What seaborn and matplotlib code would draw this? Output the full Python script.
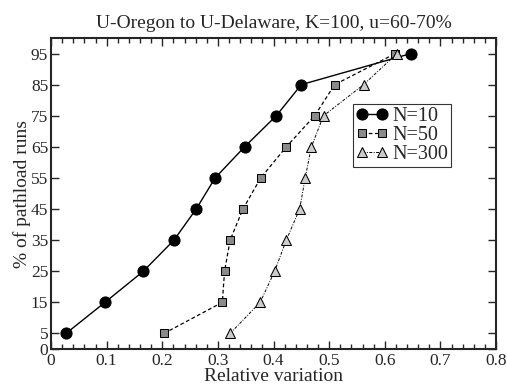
import matplotlib
matplotlib.use("Agg")
import matplotlib.pyplot as plt
from matplotlib.ticker import FixedLocator
import numpy as np
import seaborn as sns
import pandas as pd

pct = [5, 15, 25, 35, 45, 55, 65, 75, 85, 95]
n10 = [0.027, 0.097, 0.166, 0.221, 0.261, 0.295, 0.348, 0.405, 0.450, 0.647]
n50 = [0.203, 0.308, 0.312, 0.322, 0.345, 0.377, 0.423, 0.474, 0.510, 0.619]
n300 = [0.322, 0.376, 0.402, 0.423, 0.447, 0.457, 0.468, 0.490, 0.562, 0.622]
labels = ["N=10", "N=50", "N=300"]
yticks = [0, 5, 15, 25, 35, 45, 55, 65, 75, 85, 95]
xticks = [0, 0.1, 0.2, 0.3, 0.4, 0.5, 0.6, 0.7, 0.8]
xticklabels = ["0", "0.1", "0.2", "0.3", "0.4", "0.5", "0.6", "0.7", "0.8"]

sns.set_style("ticks")
plt.rcParams['font.family'] = ['Liberation Serif', 'DejaVu Serif']

fig = plt.figure(figsize=(5.07, 3.86), dpi=100)
ax = fig.add_axes([51/507, 1-349/386, (496-51)/507, (349-38)/386])

styles = [
    dict(color="black", linestyle="-", marker="o", markersize=8, markerfacecolor="black", markeredgecolor="black", lw=1.0),
    dict(color="black", linestyle=(0, (3, 2)), marker="s", markersize=6, markerfacecolor="#8a8a8a", markeredgecolor="black", lw=0.9),
    dict(color="black", linestyle=(0, (3, 1.5, 1, 1.5)), marker="^", markersize=6.5, markerfacecolor="#cccccc", markeredgecolor="black", lw=0.7),
]
for xs, lab, st in zip([n10, n50, n300], labels, styles):
    df = pd.DataFrame({"x": xs, "y": pct})
    sns.lineplot(data=df, x="x", y="y", ax=ax, sort=False, label=lab, **st)

ax.set_xlim(0, 0.8)
ax.set_ylim(0, 100)
ax.xaxis.set_major_locator(FixedLocator(xticks))
ax.xaxis.set_minor_locator(FixedLocator(list(np.arange(0, 0.801, 0.02))))
ax.yaxis.set_major_locator(FixedLocator(yticks))
ax.set_xticklabels(xticklabels)
ax.tick_params(which="both", direction="in", top=True, right=True, labelsize=12.5, pad=3)
ax.tick_params(which="major", length=6, width=1.0)
ax.tick_params(which="minor", length=3.5, width=1.0)
ax.tick_params(axis="y", pad=2)
for s in ax.spines.values():
    s.set_linewidth(1.5)

ax.set_xlabel("Relative variation", fontsize=14, labelpad=-1)
ax.set_ylabel("% of pathload runs", fontsize=14, labelpad=0)
ax.set_title("U-Oregon to U-Delaware, K=100, u=60-70%", fontsize=14, pad=7)

leg = ax.legend(loc="upper left", bbox_to_anchor=((353-51)/445, 1-(104-38)/311),
                fontsize=14.5, frameon=True, fancybox=False, edgecolor="black",
                numpoints=2, handlelength=1.6, handletextpad=0.2, borderpad=0.15,
                labelspacing=0.0, borderaxespad=0)
leg.get_frame().set_linewidth(0.8)

fig.savefig("out.png", dpi=100)
